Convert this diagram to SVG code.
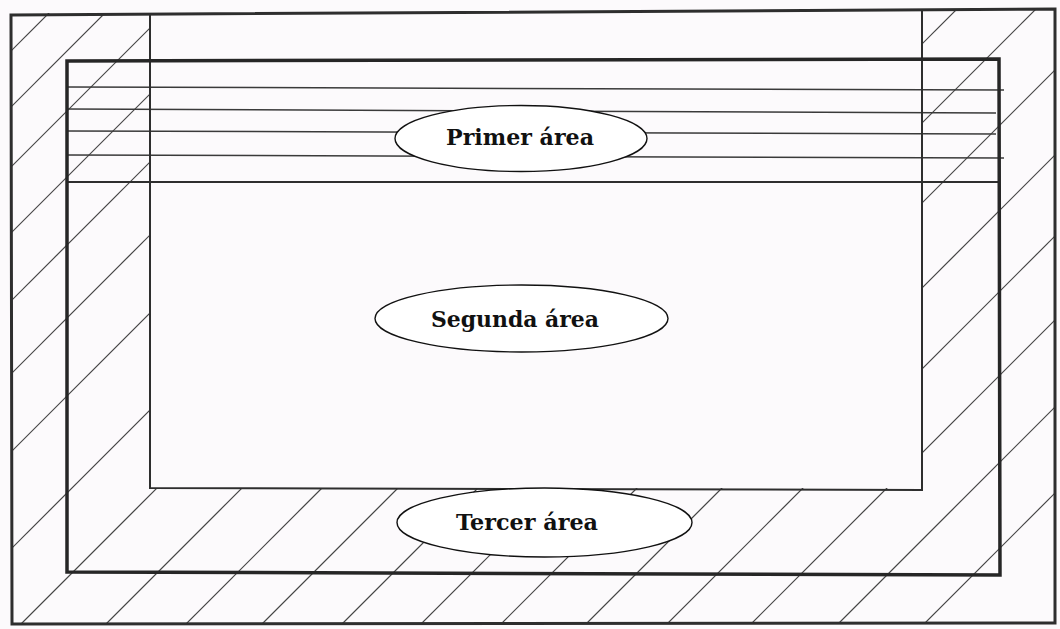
<svg xmlns="http://www.w3.org/2000/svg" width="1060" height="629" viewBox="0 0 1060 629">
  <style>
    .bg { fill: #fcfafc; }
    .outer { fill: none; stroke: #2e2e2e; stroke-width: 3; stroke-linejoin: miter; }
    .inner { fill: none; stroke: #262626; stroke-width: 3.5; }
    .wall { fill: none; stroke: #2e2e2e; stroke-width: 2; }
    .band { fill: none; stroke: #3a3a3a; stroke-width: 1.5; }
    .hatch { fill: none; stroke: #444; stroke-width: 1.2; }
    .oval { fill: #ffffff; stroke: #111; stroke-width: 1.4; }
    .lbl { font-family: "DejaVu Serif", "Liberation Serif", serif; font-weight: bold; font-size: 23px; fill: #111; text-anchor: middle; }
  </style>
  <defs>
    <clipPath id="hatchZone">
      <path d="M11,13 H150 V488 H922 V10 H1055 V624 H11 Z"/>
    </clipPath>
  </defs>
  <rect class="bg" x="0" y="0" width="1060" height="629"/>

  <g id="hatching" clip-path="url(#hatchZone)">
    <line class="hatch" x1="-588" y1="650" x2="72" y2="-10"/>
    <line class="hatch" x1="-532" y1="650" x2="128" y2="-10"/>
    <line class="hatch" x1="-472" y1="650" x2="188" y2="-10"/>
    <line class="hatch" x1="-406" y1="650" x2="254" y2="-10"/>
    <line class="hatch" x1="-338" y1="650" x2="322" y2="-10"/>
    <line class="hatch" x1="-265" y1="650" x2="395" y2="-10"/>
    <line class="hatch" x1="-187" y1="650" x2="473" y2="-10"/>
    <line class="hatch" x1="-90" y1="650" x2="570" y2="-10"/>
    <line class="hatch" x1="-5" y1="650" x2="655" y2="-10"/>
    <line class="hatch" x1="80" y1="650" x2="740" y2="-10"/>
    <line class="hatch" x1="160" y1="650" x2="820" y2="-10"/>
    <line class="hatch" x1="236" y1="650" x2="896" y2="-10"/>
    <line class="hatch" x1="316" y1="650" x2="976" y2="-10"/>
    <line class="hatch" x1="395" y1="650" x2="1055" y2="-10"/>
    <line class="hatch" x1="475" y1="650" x2="1135" y2="-10"/>
    <line class="hatch" x1="560" y1="650" x2="1220" y2="-10"/>
    <line class="hatch" x1="641" y1="650" x2="1301" y2="-10"/>
    <line class="hatch" x1="725" y1="650" x2="1385" y2="-10"/>
    <line class="hatch" x1="812" y1="650" x2="1472" y2="-10"/>
    <line class="hatch" x1="898" y1="650" x2="1558" y2="-10"/>
  </g>

  <g id="band-lines">
    <line class="band" x1="66" y1="87" x2="1004" y2="90"/>
    <line class="band" x1="66" y1="109" x2="996" y2="113"/>
    <line class="band" x1="66" y1="131" x2="996" y2="134"/>
    <line class="band" x1="66" y1="155" x2="1004" y2="158"/>
    <line class="wall" x1="66" y1="182" x2="1000" y2="182"/>
  </g>

  <g id="walls">
    <polyline class="wall" points="150,14 150,488 922,490 922,10"/>
  </g>

  <g id="inner-frame">
    <path class="inner" d="M67,61 L999,59 L1000,575 L67,572 Z"/>
  </g>

  <g id="outer-frame">
    <path class="outer" d="M11,15 L1055,9 L1055,623 L12,624 Z"/>
  </g>

  <g id="primer-area">
    <ellipse class="oval" cx="521" cy="138.5" rx="126" ry="33"/>
    <text class="lbl" x="520" y="145" textLength="148" lengthAdjust="spacingAndGlyphs">Primer área</text>
  </g>

  <g id="segunda-area">
    <ellipse class="oval" cx="521.5" cy="318.5" rx="146.5" ry="33.5"/>
    <text class="lbl" x="515" y="327" textLength="168" lengthAdjust="spacingAndGlyphs">Segunda área</text>
  </g>

  <g id="tercer-area">
    <ellipse class="oval" cx="544.5" cy="522.5" rx="147.5" ry="34.5"/>
    <text class="lbl" x="527" y="530" textLength="142" lengthAdjust="spacingAndGlyphs">Tercer área</text>
  </g>
</svg>
